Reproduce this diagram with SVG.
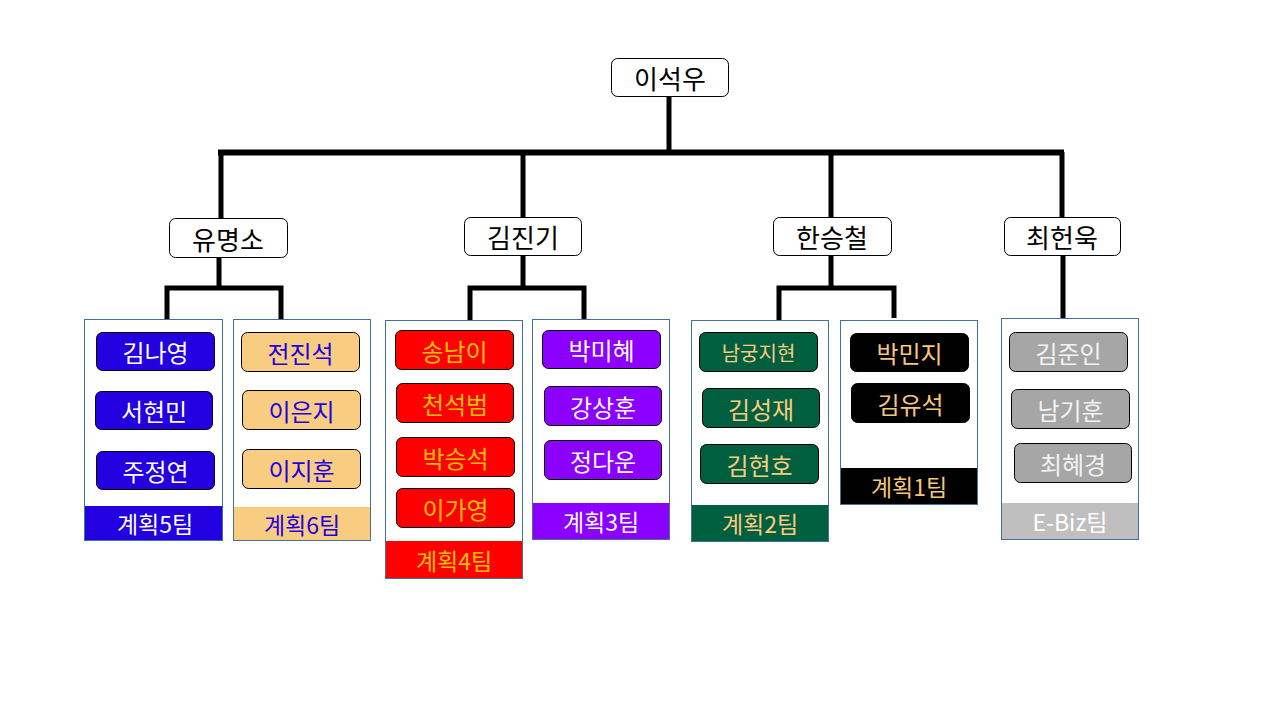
<svg xmlns="http://www.w3.org/2000/svg" width="1280" height="720" viewBox="0 0 1280 720">
<style>
text{font-family:"Malgun Gothic","Noto Sans CJK KR","Noto Sans",sans-serif;text-anchor:middle;dominant-baseline:central}
.head rect{fill:#fff;stroke:#000;stroke-width:1}
.head text{font-size:26px;fill:#000}
.team{fill:#fff;stroke:#41719C;stroke-width:1}
.nb{stroke:#000;stroke-width:1}
.nt{font-size:24px}
.ft{font-size:23px}
.conn{stroke:#000;stroke-width:5;fill:none;stroke-linecap:butt}
</style>
<rect width="1280" height="720" fill="#fff"/>
<g id="connectors" class="conn">
<line x1="669" y1="96" x2="669" y2="152"/>
<line x1="218" y1="152.5" x2="1064" y2="152.5" stroke-width="6"/>
<line x1="221" y1="152" x2="221" y2="218"/>
<line x1="523" y1="152" x2="523" y2="217"/>
<line x1="831" y1="152" x2="831" y2="217"/>
<line x1="1062" y1="152" x2="1062" y2="217"/>
<line x1="219" y1="257" x2="219" y2="288"/>
<polyline points="167,320 167,288 281,288 281,319"/>
<line x1="523" y1="255" x2="523" y2="288"/>
<polyline points="470,320 470,288 584,288 584,319"/>
<line x1="831" y1="255" x2="831" y2="288"/>
<polyline points="779,321 779,288 894,288 894,318"/>
<line x1="1063" y1="255" x2="1063" y2="318"/>
</g>
<g id="n-root" class="head"><rect x="611.5" y="58.5" width="117" height="38" rx="6"/><text x="670" y="77">이석우</text></g>
<g id="n-yu" class="head"><rect x="169.5" y="218.5" width="118" height="39" rx="6"/><text x="228" y="238">유명소</text></g>
<g id="n-kim" class="head"><rect x="464.5" y="217.5" width="117" height="38" rx="6"/><text x="523" y="236.5">김진기</text></g>
<g id="n-han" class="head"><rect x="773.5" y="217.5" width="118" height="38" rx="6"/><text x="832" y="236.5">한승철</text></g>
<g id="n-choi" class="head"><rect x="1004.5" y="217.5" width="116" height="38" rx="6"/><text x="1062" y="236.5">최헌욱</text></g>

<g id="team5">
<rect class="team" x="84.5" y="319.5" width="138" height="221"/>
<rect x="85" y="506" width="137" height="34" fill="#2200E0"/>
<text class="ft" x="155" y="523" fill="#fff">계획5팀</text>
<rect class="nb" x="96.5" y="332.5" width="118" height="38" rx="6" fill="#2200E0"/><text class="nt" x="155.5" y="351.5" fill="#fff">김나영</text>
<rect class="nb" x="95.5" y="391.5" width="117" height="38" rx="6" fill="#2200E0"/><text class="nt" x="154" y="410.5" fill="#fff">서현민</text>
<rect class="nb" x="96.5" y="451.5" width="118" height="38" rx="6" fill="#2200E0"/><text class="nt" x="155.5" y="470.5" fill="#fff">주정연</text>
</g>

<g id="team6">
<rect class="team" x="233.5" y="319.5" width="137" height="221"/>
<rect x="234" y="507" width="136" height="33" fill="#F8CD82"/>
<text class="ft" x="302" y="523.5" fill="#2200E0">계획6팀</text>
<rect class="nb" x="241.5" y="332.5" width="118" height="39" rx="6" fill="#F8CD82"/><text class="nt" x="300.5" y="352" fill="#2200E0">전진석</text>
<rect class="nb" x="242.5" y="390.5" width="118" height="39" rx="6" fill="#F8CD82"/><text class="nt" x="301.5" y="410" fill="#2200E0">이은지</text>
<rect class="nb" x="242.5" y="449.5" width="118" height="39" rx="6" fill="#F8CD82"/><text class="nt" x="301.5" y="469" fill="#2200E0">이지훈</text>
</g>

<g id="team4">
<rect class="team" x="385.5" y="320.5" width="137" height="258"/>
<rect x="386" y="541" width="136" height="37" fill="#FF0000"/>
<text class="ft" x="454" y="559.5" fill="#FFC000">계획4팀</text>
<rect class="nb" x="395.5" y="330.5" width="118" height="39" rx="6" fill="#FF0000"/><text class="nt" x="454.5" y="350" fill="#FFC000">송남이</text>
<rect class="nb" x="396.5" y="383.5" width="117" height="39" rx="6" fill="#FF0000"/><text class="nt" x="455" y="403" fill="#FFC000">천석범</text>
<rect class="nb" x="396.5" y="437.5" width="118" height="39" rx="6" fill="#FF0000"/><text class="nt" x="455.5" y="457" fill="#FFC000">박승석</text>
<rect class="nb" x="396.5" y="488.5" width="118" height="39" rx="6" fill="#FF0000"/><text class="nt" x="455.5" y="508" fill="#FFC000">이가영</text>
</g>

<g id="team3">
<rect class="team" x="532.5" y="319.5" width="137" height="220"/>
<rect x="533" y="503" width="136" height="36" fill="#8B00FF"/>
<text class="ft" x="601" y="521" fill="#fff">계획3팀</text>
<rect class="nb" x="542.5" y="330.5" width="118" height="38" rx="6" fill="#8B00FF"/><text class="nt" x="601.5" y="349.5" fill="#fff">박미혜</text>
<rect class="nb" x="544.5" y="386.5" width="117" height="39" rx="6" fill="#8B00FF"/><text class="nt" x="603" y="406" fill="#fff">강상훈</text>
<rect class="nb" x="544.5" y="440.5" width="117" height="39" rx="6" fill="#8B00FF"/><text class="nt" x="603" y="460" fill="#fff">정다운</text>
</g>

<g id="team2">
<rect class="team" x="691.5" y="320.5" width="137" height="221"/>
<rect x="692" y="505" width="136" height="36" fill="#005F3F"/>
<text class="ft" x="760" y="523" fill="#F8CB7F">계획2팀</text>
<rect class="nb" x="699.5" y="332.5" width="118" height="39" rx="6" fill="#005F3F"/><text x="758.5" y="352" fill="#F8CB7F" font-size="20px">남궁지현</text>
<rect class="nb" x="702.5" y="388.5" width="117" height="39" rx="6" fill="#005F3F"/><text class="nt" x="761" y="408" fill="#F8CB7F">김성재</text>
<rect class="nb" x="700.5" y="444.5" width="118" height="39" rx="6" fill="#005F3F"/><text class="nt" x="759.5" y="464" fill="#F8CB7F">김현호</text>
</g>

<g id="team1">
<rect class="team" x="840.5" y="320.5" width="137" height="184"/>
<rect x="841" y="468" width="136" height="36" fill="#000"/>
<text class="ft" x="909" y="486" fill="#F6C67A">계획1팀</text>
<rect class="nb" x="850.5" y="333.5" width="118" height="38" rx="6" fill="#000"/><text class="nt" x="909.5" y="352.5" fill="#F6C67A">박민지</text>
<rect class="nb" x="851.5" y="383.5" width="118" height="39" rx="6" fill="#000"/><text class="nt" x="910.5" y="403" fill="#F6C67A">김유석</text>
</g>

<g id="team-ebiz">
<rect class="team" x="1001.5" y="318.5" width="137" height="221"/>
<rect x="1002" y="503" width="136" height="36" fill="#BFBFBF"/>
<text class="ft" x="1070" y="521" fill="#fff">E-Biz팀</text>
<rect class="nb" x="1009.5" y="332.5" width="118" height="39" rx="6" fill="#A6A6A6"/><text class="nt" x="1068.5" y="352" fill="#F2F2F2">김준인</text>
<rect class="nb" x="1011.5" y="389.5" width="118" height="39" rx="6" fill="#A6A6A6"/><text class="nt" x="1070.5" y="409" fill="#F2F2F2">남기훈</text>
<rect class="nb" x="1014.5" y="443.5" width="117" height="39" rx="6" fill="#A6A6A6"/><text class="nt" x="1073" y="463" fill="#F2F2F2">최혜경</text>
</g>
</svg>
